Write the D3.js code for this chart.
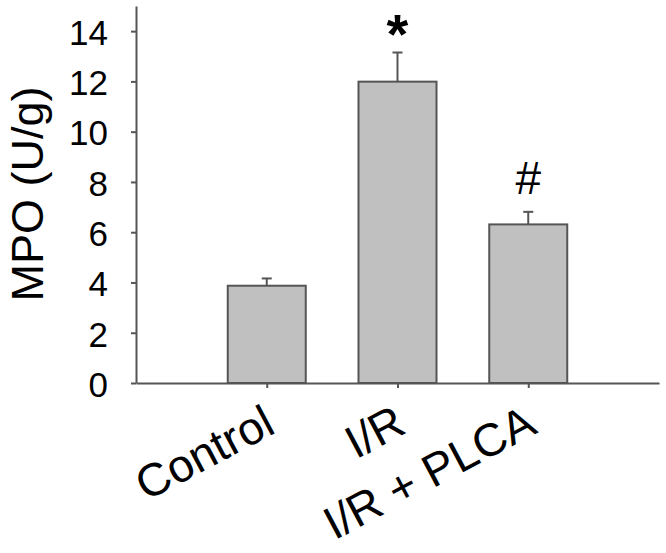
<!DOCTYPE html>
<html>
<head>
<meta charset="utf-8">
<script src="https://cdn.jsdelivr.net/npm/d3@7"></script>
<style>
  html, body { margin: 0; padding: 0; background: #fff; }
  svg { display: block; font-family: "Liberation Sans", Arial, sans-serif; }
</style>
</head>
<body>
<svg id="chart" width="666" height="553"></svg>
<script>
const categories = ["Control", "I/R", "I/R + PLCA"];
const means = [3.87, 11.99, 6.31];
const errors = [0.29, 1.16, 0.50];
const marks = ["", "*", "#"];
const yTicks = [0, 2, 4, 6, 8, 10, 12, 14];
const yTitle = "MPO (U/g)";

const svg = d3.select("#chart");
const axisColor = "#555555";

const x = d3.scalePoint().domain(categories).range([136, 659]).padding(1);
const y = d3.scaleLinear().domain([0, 15]).range([383, 6]);
const barW = 78;

const data = categories.map((c, i) => ({ c, m: means[i], e: errors[i], s: marks[i] }));

// bars
svg.append("g").selectAll("rect").data(data).join("rect")
  .attr("x", d => x(d.c) - barW / 2)
  .attr("y", d => y(d.m))
  .attr("width", barW)
  .attr("height", d => y(0) - y(d.m))
  .attr("fill", "#c0c0c0")
  .attr("stroke", "#555555")
  .attr("stroke-width", 2);

// error bars
const eg = svg.append("g").attr("stroke", "#555555").attr("stroke-width", 2);
eg.selectAll("line.v").data(data).join("line").attr("class", "v")
  .attr("x1", d => x(d.c)).attr("x2", d => x(d.c))
  .attr("y1", d => y(d.m)).attr("y2", d => y(d.m + d.e));
eg.selectAll("line.cap").data(data).join("line").attr("class", "cap")
  .attr("x1", d => x(d.c) - 5).attr("x2", d => x(d.c) + 5)
  .attr("y1", d => y(d.m + d.e)).attr("y2", d => y(d.m + d.e));

// significance marks
svg.append("g").selectAll("text").data(data.filter(d => d.s)).join("text")
  .attr("x", d => x(d.c))
  .attr("y", d => y(d.m + d.e) - (d.s === "*" ? -1 : 18))
  .attr("text-anchor", "middle")
  .attr("font-size", d => d.s === "*" ? 56 : 46)
  .attr("font-weight", d => d.s === "*" ? "bold" : "normal")
  .attr("fill", "#000")
  .text(d => d.s);

// y axis
const yAxis = svg.append("g").attr("transform", "translate(136,0)")
  .call(d3.axisLeft(y).tickValues(yTicks).tickSize(5).tickPadding(23).tickSizeOuter(0));
yAxis.select(".domain").attr("stroke", axisColor).attr("stroke-width", 2);
yAxis.selectAll(".tick line").attr("stroke", axisColor).attr("stroke-width", 2);
yAxis.selectAll(".tick text").attr("font-size", 35).attr("fill", "#000")
  .attr("font-family", "Liberation Sans, Arial, sans-serif").attr("dy", "0.38em");

// x axis
const xAxis = svg.append("g").attr("transform", "translate(0,383)")
  .call(d3.axisBottom(x).tickSize(5).tickSizeOuter(0));
xAxis.select(".domain").attr("stroke", axisColor).attr("stroke-width", 2);
xAxis.selectAll(".tick line").attr("stroke", axisColor).attr("stroke-width", 2);
xAxis.selectAll(".tick text")
  .attr("font-size", 46).attr("fill", "#000")
  .attr("font-family", "Liberation Sans, Arial, sans-serif")
  .attr("text-anchor", "end")
  .attr("x", null).attr("y", null).attr("dy", null)
  .attr("transform", "translate(10,49) rotate(-28)");

// y title
svg.append("text")
  .attr("transform", "translate(43,194) rotate(-90)")
  .attr("text-anchor", "middle")
  .attr("font-size", 45)
  .attr("fill", "#000")
  .text(yTitle);
</script>
</body>
</html>
